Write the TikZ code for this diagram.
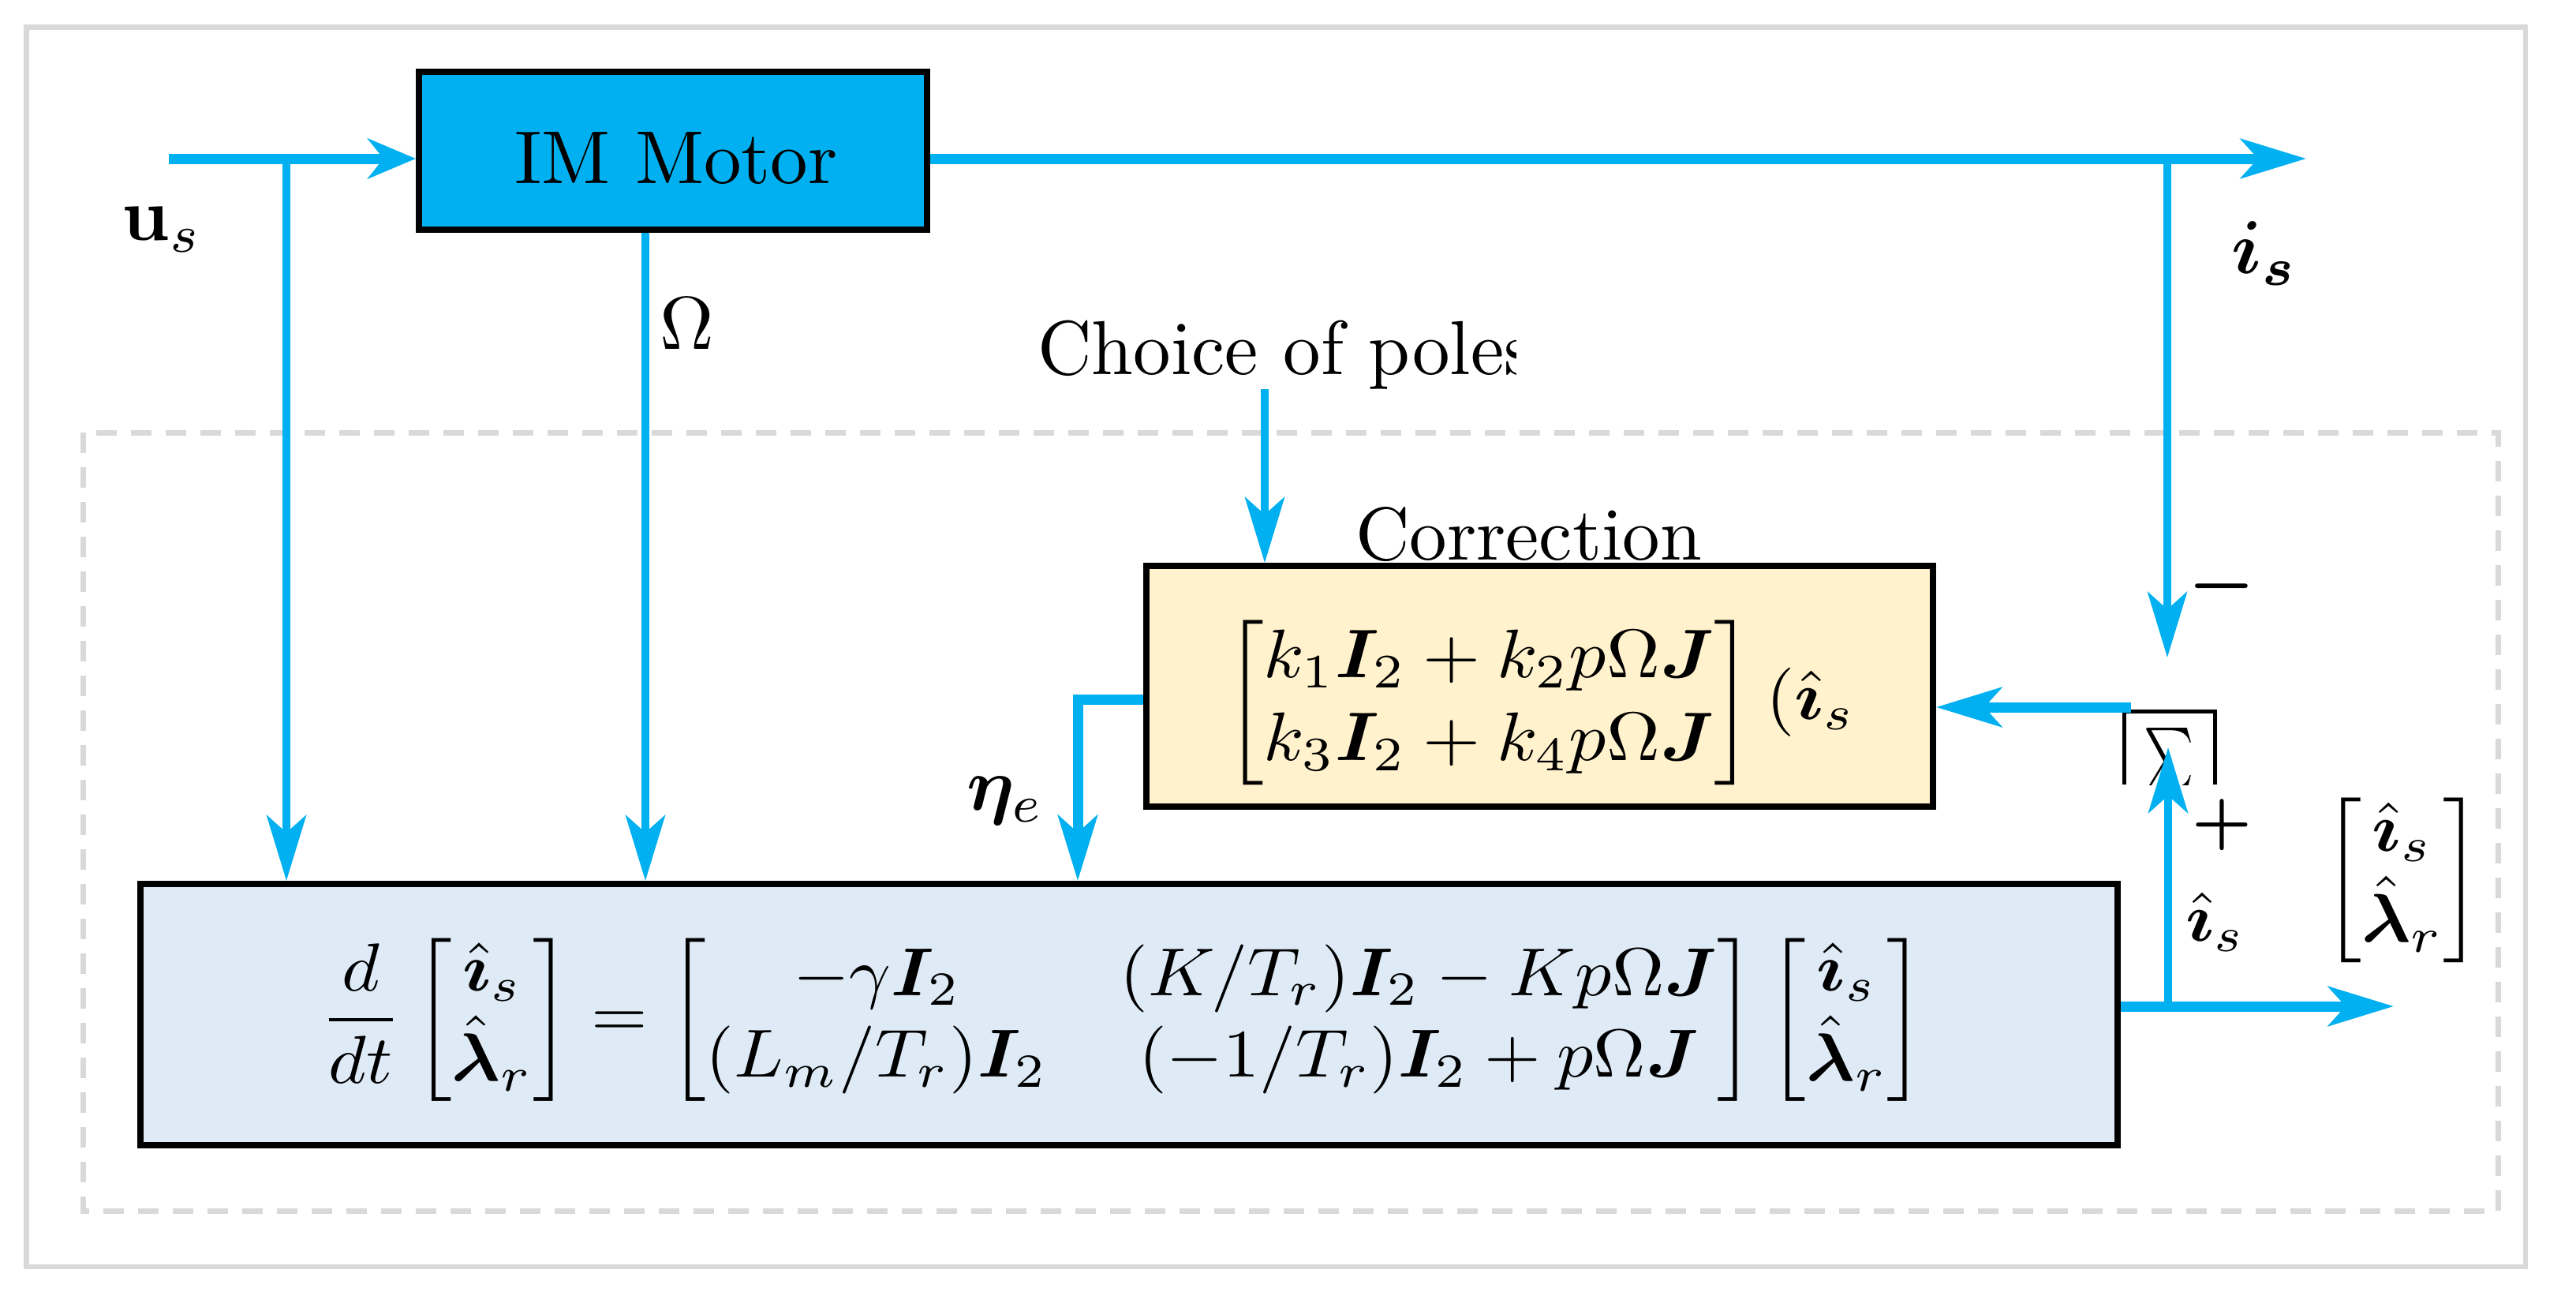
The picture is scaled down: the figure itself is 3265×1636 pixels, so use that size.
\documentclass[tikz,border=0pt]{standalone}
\usepackage{amsmath,bm}
\usetikzlibrary{arrows.meta}
\pgfdeclarelayer{bg}
\pgfsetlayers{bg,main}
\definecolor{cyanb}{HTML}{00B0F0}
\definecolor{corrfill}{HTML}{FFF2CC}
\definecolor{obsfill}{HTML}{DEEBF7}
\definecolor{framegray}{HTML}{D9D9D9}
\tikzset{
  wire/.style={draw=cyanb,line width=10pt},
  bus/.style={draw=cyanb,line width=13pt},
  tipL/.style={-{Stealth[length=83pt,width=50pt,inset=22pt]}},
  tipS/.style={-{Stealth[length=61pt,width=51pt,inset=20pt]}},
  blockbox/.style={draw=black,inner sep=0pt,line width=8pt,outer sep=4pt},
  lbl/.style={inner sep=0pt},
}
\newcommand\myshade[1]{%
  \begin{pgfonlayer}{bg}
  \foreach \e in {0,3,6,9,12}{%
    \fill[black,opacity=.09] ([xshift=-\e pt,yshift=-12pt+\e pt]#1.north west) rectangle ([xshift=\e pt,yshift=-12pt-\e pt]#1.south east);}
  \end{pgfonlayer}}
\begin{document}
\begin{tikzpicture}[x=1pt,y=-1pt]
\useasboundingbox (0,0) rectangle (3265,1636);
\fill[white] (0,0) rectangle (3265,1636);
% frames
\draw[draw=framegray,line width=6.5pt] (33.5,34.5) rectangle (3201,1605);
\draw[draw=framegray,line width=7pt,dash pattern=on 26pt off 18pt] (105,548) rectangle (3166,1534.5);

% blocks
\node[blockbox,fill=cyanb,minimum width=644pt,minimum height=200pt] (motor) at (853,191) {};
\node[blockbox,fill=corrfill,minimum width=997pt,minimum height=305pt] (corr) at (1951.5,869.5) {};
\node[blockbox,fill=obsfill,minimum width=2506pt,minimum height=331pt] (obs) at (1431,1285.5) {};
\myshade{motor}
\myshade{corr}
\myshade{obs}

% texts in blocks
\node[lbl] (motortxt) at (857,201) {\scalebox{9.5}{IM Motor}};
\node[lbl,anchor=base west] (corrlbl) at (1718,709) {\scalebox{9.5}{Correction}};
\node[lbl] (corrf) at (1952,890) {\scalebox{9.4}[8.7]{$\begin{bmatrix} k_1\bm{I}_2+k_2p\Omega\bm{J}\\ k_3\bm{I}_2+k_4p\Omega\bm{J}\end{bmatrix}(\hat{\bm{\imath}}_s$}};
\node[lbl] (obsf) at (1423,1292) {\scalebox{9.2}[8.6]{$\displaystyle\frac{d}{dt}\begin{bmatrix}\hat{\bm{\imath}}_s\\ \hat{\bm{\lambda}}_r\end{bmatrix}=\begin{bmatrix}-\gamma\bm{I}_2 & (K/T_r)\bm{I}_2-Kp\Omega\bm{J}\\ (L_m/T_r)\bm{I}_2 & (-1/T_r)\bm{I}_2+p\Omega\bm{J}\end{bmatrix}\begin{bmatrix}\hat{\bm{\imath}}_s\\ \hat{\bm{\lambda}}_r\end{bmatrix}$}};

\begin{scope}
\clip (1290,380) rectangle (1921,520);
\node[lbl,anchor=base west] (choice) at (1315,474) {\scalebox{9.5}[9.7]{Choice of poles}};
\end{scope}

% summing junction
\node[minimum width=114pt,minimum height=92pt,inner sep=0pt] (sum) at (2750,948) {};
\draw[black,line width=5pt] (sum.south west) |- (sum.north east) -- (sum.south east);
\begin{scope}
\clip (2696,905) rectangle (2804,994);
\node[lbl] (sig) at (2749,962) {\scalebox{6}[8]{$\textstyle\sum$}};
\end{scope}

% labels
\node[lbl] (uslbl) at (205,291) {\scalebox{9.5}{$\mathbf{u}_s$}};
\node[lbl] (omlbl) at (871,410) {\scalebox{9.5}{$\Omega$}};
\node[lbl] (islbl) at (2870,321) {\scalebox{9.5}{$\bm{i}_{\bm{s}}$}};
\node[lbl] (etalbl) at (1274,1015) {\scalebox{9.5}{$\bm{\eta}_e$}};
\node[lbl] (minus) at (2816,743) {\scalebox{9.5}{$\bm{-}$}};
\node[lbl] (plus) at (2816,1045) {\scalebox{8.5}{$\bm{+}$}};
\node[lbl] (ishat) at (2808,1168) {\scalebox{9.2}[8.7]{$\hat{\bm{\imath}}_s$}};
\node[lbl] (vec) at (3045,1115) {\scalebox{9.3}[8.7]{$\begin{bmatrix}\hat{\bm{\imath}}_s\\ \hat{\bm{\lambda}}_r\end{bmatrix}$}};

% coordinates
\coordinate (usin) at (214,201);
\coordinate (usbr) at (363,201);
\coordinate (omx) at (818,0);
\coordinate (isbr) at (2747,201);
\coordinate (isout) at (2923,201);
\coordinate (isdn) at (2747,833);
\coordinate (choicex) at (1603,493);
\coordinate (fbst) at (2701,896);
\coordinate (etac) at (1366,886);
\coordinate (upb) at (2748,1275);
\coordinate (uptip) at (2748,947);
\coordinate (xout) at (3034,1275);

% connectors
\draw[bus,tipS] (usin) -- (usin -| motor.west);
\draw[bus,tipL] (usin -| motor.east) -- (isout);
\draw[wire,tipL] (usbr) -- (usbr |- obs.north);
\draw[wire,tipL] (omx |- motor.south) -- (omx |- obs.north);
\draw[wire,tipL] (choicex) -- (choicex |- corr.north);
\draw[wire,tipL] (isbr) -- (isdn);
\draw[bus,tipL] (fbst) -- (fbst -| corr.east);
\draw[bus,tipL] (corr.west |- etac) -- (etac) -- (etac |- obs.north);
\draw[wire,tipL] (upb) -- (uptip);
\draw[bus,tipL] (upb -| obs.east) -- (xout);
\end{tikzpicture}
\end{document}
